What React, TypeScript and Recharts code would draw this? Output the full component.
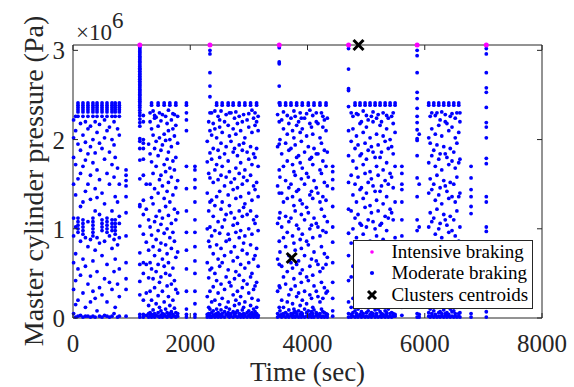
import React from 'react';
import { ScatterChart, Scatter, XAxis, YAxis, ReferenceArea, Legend } from 'recharts';

const FONT = "'Liberation Serif', 'Times New Roman', serif";
const AXIS = '#262626';
const PLOT_TOP = 45;
const PLOT_BOTTOM = 318;
const PLOT_LEFT = 73;
const PLOT_RIGHT = 542;

const xTicks = [0, 2000, 4000, 6000, 8000];
const yTicks = [0, 1, 2, 3];

// Each row: [time (sec), pressure values (x10^6 Pa) observed at that time...]
const block1: number[][] = [
  [10, 2.22, 2.02, 1.8, 1.5, 1.12, 0.92, 0.62, 0.32, 0.05],
  [45, 2.26, 2.1, 1.72, 1.38, 1.02, 0.72, 0.42, 0.15, 0.01],
  [85, 2.41, 2.385, 2.36, 2.335, 2.31, 2.26, 1.95, 1.56, 1.12, 1.08, 1.04, 1.0, 0.96, 0.55, 0.2, 0.02],
  [128, 2.18, 1.88, 1.62, 1.25, 0.86, 0.48, 0.03],
  [170, 2.41, 2.385, 2.36, 2.335, 2.31, 2.26, 2.05, 1.7, 1.3, 1.1, 1.06, 1.02, 0.98, 0.94, 0.66, 0.28, 0.01],
  [212, 2.2, 1.97, 1.77, 1.42, 0.9, 0.58, 0.12, 0.02],
  [255, 2.41, 2.385, 2.36, 2.335, 2.31, 2.26, 2.12, 1.84, 1.5, 1.08, 0.8, 0.38, 0.02],
  [298, 2.15, 1.92, 1.6, 1.33, 0.88, 0.47, 0.18, 0.01],
  [340, 2.41, 2.385, 2.36, 2.335, 2.31, 2.26, 2.0, 1.74, 1.12, 1.08, 1.04, 1.0, 0.96, 0.92, 0.64, 0.3, 0.02],
  [378, 2.2, 1.85, 1.45, 1.2, 0.76, 0.22, 0.01],
  [410, 2.41, 2.385, 2.36, 2.335, 2.31, 2.26, 2.08, 1.66, 1.35, 0.9, 0.52, 0.08],
  [452, 2.17, 1.96, 1.55, 1.16, 0.84, 0.34, 0.02],
  [495, 2.41, 2.385, 2.36, 2.335, 2.31, 2.26, 1.9, 1.4, 1.1, 1.06, 1.02, 0.98, 0.7, 0.26, 0.01],
  [538, 2.22, 2.02, 1.78, 1.28, 0.86, 0.44, 0.03],
  [580, 2.41, 2.385, 2.36, 2.335, 2.31, 2.26, 2.1, 1.62, 1.12, 1.08, 1.04, 1.0, 0.96, 0.6, 0.18, 0.02],
  [622, 2.14, 1.86, 1.5, 0.92, 0.4, 0.01],
  [665, 2.41, 2.385, 2.36, 2.335, 2.31, 2.26, 2.0, 1.72, 1.2, 1.1, 1.06, 1.02, 0.98, 0.78, 0.32, 0.02],
  [700, 2.2, 1.94, 1.58, 0.88, 0.52, 0.05],
  [720, 2.41, 2.385, 2.36, 2.335, 2.31, 2.26, 1.8, 1.36, 1.1, 1.06, 1.02, 0.98, 0.94, 0.66, 0.12],
  [760, 2.12, 1.68, 1.3, 0.82, 0.38, 0.01],
  [790, 2.41, 2.385, 2.36, 2.335, 2.31, 2.26, 2.05, 1.5, 1.14, 1.06, 0.9, 0.55, 0.24, 0.02],
  [905, 1.66, 1.6, 1.54, 1.48, 1.36, 1.18, 0.92, 0.62, 0.44, 0.32, 0.02],
];

const spikeColumns: number[][] = [
  [1140, 3.04, 3.025, 3.005, 2.985, 2.97, 2.95, 2.93, 2.915, 2.895, 2.875, 2.86, 2.84, 2.82, 2.8, 2.785, 2.765,
    2.745, 2.73, 2.71, 2.69, 2.675, 2.655, 2.635, 2.615, 2.6, 2.58, 2.56, 2.545, 2.525, 2.505, 2.49, 2.47, 2.45,
    2.43, 2.41, 2.385, 2.36, 2.33, 2.3, 2.27, 2.23, 2.19, 2.15, 2.01, 1.98, 1.9, 1.77, 1.56, 1.27, 1.25, 1.03,
    0.73, 0.6, 0.41, 0.26, 0.04, 0.01],
  [2336, 3.0, 2.96, 2.75, 2.6, 2.48, 2.3, 2.1, 1.85, 1.57, 1.3, 1.02, 0.8, 0.54, 0.3, 0.1, 0.03, 0.01],
  [3518, 3.03, 2.87, 2.85, 2.6, 2.41, 2.2, 1.95, 1.66, 1.4, 1.12, 0.86, 0.6, 0.36, 0.12, 0.03],
  [4700, 3.02, 2.79, 2.57, 2.55, 2.37, 2.1, 1.82, 1.52, 1.22, 0.95, 0.7, 0.42, 0.18, 0.05, 0.01],
  [5870, 3.0, 2.94, 2.75, 2.53, 2.46, 2.35, 2.26, 2.19, 2.11, 2.01, 1.99, 1.82, 1.57, 1.36, 1.1, 0.98, 0.7, 0.48, 0.2, 0.05, 0.01],
  [7050, 3.02, 2.96, 2.75, 2.58, 2.53, 2.36, 2.19, 2.14, 2.02, 1.79, 1.73, 1.36, 1.3, 1.02, 0.97, 0.07, 0.01],
];

const block2: number[][] = [
  [1200, 2.27, 2.2, 2.0, 1.96, 1.9, 1.78, 1.6, 1.32, 1.16, 0.94, 0.62, 0.5, 0.2, 0.04, 0.01],
  [1250, 1.5, 1.22, 0.85, 0.6, 0.28, 0.03],
  [1290, 1.95, 1.1, 0.76, 0.45, 0.14, 0.05, 0.01],
  [1315, 2.3, 2.2, 1.84, 1.5, 1.02, 0.62, 0.3, 0.06, 0.02],
  [1340, 2.41, 2.385, 2.12, 1.75, 1.35, 0.93, 0.55, 0.2, 0.04, 0.01],
  [1366, 2.32, 2.05, 1.62, 1.28, 0.8, 0.44, 0.09, 0.03],
  [1392, 2.27, 2.24, 1.9, 1.45, 1.08, 0.7, 0.34, 0.05, 0.01],
  [1418, 2.25, 1.98, 1.7, 1.14, 0.88, 0.52, 0.16, 0.03],
  [1452, 2.41, 2.385, 2.15, 1.82, 1.4, 0.98, 0.6, 0.25, 0.06, 0.02],
  [1475, 2.3, 2.02, 1.55, 1.2, 0.76, 0.4, 0.12, 0.01],
  [1500, 2.21, 1.88, 1.6, 1.05, 0.84, 0.46, 0.08, 0.03],
  [1525, 2.28, 1.94, 1.48, 1.12, 0.66, 0.3, 0.05, 0.01],
  [1555, 2.41, 2.385, 2.06, 1.72, 1.34, 0.95, 0.58, 0.18, 0.04],
  [1580, 2.26, 1.99, 1.64, 1.25, 0.82, 0.5, 0.1, 0.02],
  [1605, 2.18, 1.78, 1.42, 1.0, 0.72, 0.36, 0.06, 0.01],
  [1628, 2.33, 2.1, 1.86, 1.52, 1.15, 0.62, 0.24, 0.03],
  [1652, 2.41, 2.385, 2.0, 1.68, 1.3, 0.9, 0.48, 0.14, 0.05, 0.02],
  [1678, 2.22, 1.92, 1.58, 1.06, 0.78, 0.38, 0.07, 0.01],
  [1704, 2.29, 2.12, 1.76, 1.38, 0.96, 0.56, 0.2, 0.04],
  [1730, 2.28, 2.04, 1.66, 1.22, 0.86, 0.42, 0.11, 0.02],
  [1754, 2.41, 2.385, 2.16, 1.8, 1.46, 1.1, 0.68, 0.32, 0.06, 0.01],
  [1785, 2.26, 1.96, 1.54, 1.18, 0.74, 0.28, 0.05, 0.02],
  [1935, 2.41, 2.385, 2.3, 2.22, 2.1, 1.7, 1.45, 1.2, 0.96, 0.76, 0.55, 0.3, 0.1, 0.04, 0.01],
  [2080, 1.7, 1.66, 1.55, 1.46, 1.3, 1.1, 0.96, 0.8, 0.64, 0.5, 0.3, 0.16, 0.04, 0.01],
];

const block3: number[][] = [
  [2290, 1.98, 1.75, 1.4, 1.0, 0.62, 0.24, 0.04, 0.01],
  [2315, 2.2, 1.62, 1.2, 0.86, 0.45, 0.12, 0.05, 0.02],
  [2365, 2.3, 2.05, 1.78, 1.32, 0.92, 0.56, 0.18, 0.06, 0.01],
  [2392, 2.18, 1.9, 1.52, 1.14, 0.72, 0.35, 0.08, 0.03],
  [2420, 2.32, 2.12, 1.66, 1.26, 0.98, 0.5, 0.2, 0.04, 0.01],
  [2450, 2.41, 2.385, 2.02, 1.72, 1.36, 0.82, 0.42, 0.1, 0.05, 0.02],
  [2475, 2.26, 1.88, 1.55, 1.08, 0.66, 0.28, 0.06, 0.01],
  [2502, 2.22, 2.14, 1.8, 1.42, 0.95, 0.58, 0.15, 0.04, 0.02],
  [2525, 2.32, 1.96, 1.6, 1.22, 0.78, 0.38, 0.09, 0.01],
  [2545, 2.41, 2.385, 2.08, 1.7, 1.3, 1.02, 0.62, 0.22, 0.05, 0.02],
  [2585, 2.2, 1.84, 1.48, 1.1, 0.7, 0.32, 0.07, 0.01],
  [2612, 2.28, 1.92, 1.58, 1.16, 0.86, 0.46, 0.12, 0.04],
  [2647, 2.41, 2.385, 2.16, 1.76, 1.38, 0.94, 0.54, 0.18, 0.06, 0.02],
  [2668, 2.3, 2.04, 1.64, 1.26, 0.88, 0.4, 0.1, 0.03, 0.01],
  [2695, 2.3, 1.98, 1.52, 1.18, 0.74, 0.36, 0.05, 0.02],
  [2732, 2.41, 2.385, 2.12, 1.86, 1.44, 1.04, 0.64, 0.26, 0.07, 0.01],
  [2755, 2.24, 1.9, 1.56, 1.12, 0.8, 0.44, 0.14, 0.04],
  [2778, 2.31, 2.06, 1.68, 1.34, 0.96, 0.52, 0.2, 0.06, 0.02],
  [2805, 2.18, 1.82, 1.46, 1.06, 0.68, 0.3, 0.08, 0.01],
  [2835, 2.41, 2.385, 2.26, 1.94, 1.62, 1.2, 0.9, 0.48, 0.16, 0.05, 0.02],
  [2860, 2.1, 1.74, 1.36, 0.98, 0.6, 0.24, 0.04, 0.01],
  [2888, 2.2, 1.88, 1.5, 1.14, 0.76, 0.34, 0.09, 0.03],
  [2910, 2.28, 1.96, 1.58, 1.24, 0.84, 0.42, 0.12, 0.05, 0.01],
  [2932, 2.41, 2.385, 2.02, 1.66, 1.28, 0.92, 0.56, 0.18, 0.04, 0.02],
  [2970, 2.22, 1.86, 1.54, 1.16, 0.72, 0.38, 0.06, 0.01],
  [2998, 2.29, 2.14, 1.78, 1.4, 1.0, 0.62, 0.28, 0.08, 0.03],
  [3029, 2.41, 2.385, 1.92, 1.6, 1.2, 0.82, 0.46, 0.14, 0.05, 0.01],
  [3052, 2.33, 2.08, 1.72, 1.32, 0.94, 0.5, 0.22, 0.06, 0.02],
  [3080, 2.24, 1.84, 1.48, 1.1, 0.66, 0.32, 0.1, 0.04, 0.01],
  [3105, 2.3, 2.16, 1.8, 1.44, 1.06, 0.7, 0.36, 0.07, 0.02],
  [3132, 2.41, 2.385, 2.2, 1.9, 1.52, 1.14, 0.78, 0.4, 0.12, 0.05, 0.01],
  [3158, 2.26, 2.1, 1.7, 1.36, 0.98, 0.58, 0.2, 0.03, 0.01],
];

const block4: number[][] = [
  [3490, 2.28, 1.92, 1.48, 1.06, 0.66, 0.3, 0.05, 0.01],
  [3530, 2.41, 2.385, 2.0, 1.58, 1.18, 0.74, 0.34, 0.08, 0.02],
  [3560, 2.22, 1.84, 1.4, 1.02, 0.58, 0.2, 0.04, 0.01],
  [3590, 2.31, 2.12, 1.7, 1.3, 0.9, 0.46, 0.12, 0.05, 0.02],
  [3627, 2.41, 2.385, 1.96, 1.54, 1.14, 0.8, 0.38, 0.06, 0.01],
  [3655, 2.27, 2.06, 1.76, 1.34, 0.96, 0.52, 0.18, 0.04, 0.02],
  [3682, 2.18, 1.88, 1.46, 1.08, 0.7, 0.26, 0.09, 0.01],
  [3718, 2.41, 2.385, 2.24, 1.9, 1.5, 1.12, 0.62, 0.32, 0.05, 0.03],
  [3745, 2.1, 1.72, 1.36, 0.92, 0.56, 0.16, 0.04, 0.01],
  [3768, 2.32, 2.02, 1.64, 1.26, 0.84, 0.44, 0.1, 0.06, 0.02],
  [3790, 2.26, 1.94, 1.6, 1.2, 0.76, 0.36, 0.07, 0.01],
  [3815, 2.41, 2.385, 2.16, 1.8, 1.42, 1.04, 0.6, 0.24, 0.05, 0.02],
  [3848, 2.2, 1.82, 1.44, 1.0, 0.64, 0.28, 0.08, 0.01],
  [3875, 2.3, 2.08, 1.74, 1.32, 0.88, 0.5, 0.14, 0.04, 0.02],
  [3895, 2.24, 1.98, 1.56, 1.16, 0.78, 0.4, 0.06, 0.01],
  [3911, 2.41, 2.385, 2.12, 1.68, 1.28, 0.94, 0.54, 0.2, 0.05, 0.03],
  [3950, 2.24, 1.86, 1.5, 1.1, 0.7, 0.3, 0.1, 0.01],
  [3985, 2.29, 2.04, 1.62, 1.24, 0.86, 0.46, 0.16, 0.06, 0.02],
  [4014, 2.41, 2.385, 1.92, 1.58, 1.18, 0.82, 0.42, 0.08, 0.01],
  [4040, 2.33, 2.18, 1.78, 1.38, 1.0, 0.58, 0.26, 0.04, 0.02],
  [4068, 2.14, 1.8, 1.42, 1.04, 0.66, 0.22, 0.07, 0.01],
  [4090, 2.27, 2.06, 1.72, 1.34, 0.9, 0.48, 0.12, 0.05, 0.02],
  [4111, 2.41, 2.385, 1.9, 1.54, 1.12, 0.74, 0.36, 0.09, 0.01],
  [4150, 2.3, 2.2, 1.84, 1.46, 1.06, 0.64, 0.3, 0.06, 0.03],
  [4178, 2.18, 1.84, 1.4, 1.02, 0.6, 0.24, 0.04, 0.01],
  [4213, 2.41, 2.385, 2.02, 1.66, 1.3, 0.92, 0.52, 0.18, 0.05, 0.02],
  [4238, 2.3, 1.96, 1.62, 1.22, 0.8, 0.4, 0.1, 0.01],
  [4262, 2.26, 2.14, 1.76, 1.36, 0.98, 0.56, 0.22, 0.07, 0.02],
  [4288, 2.22, 1.88, 1.52, 1.14, 0.72, 0.34, 0.06, 0.01],
  [4316, 2.41, 2.385, 2.1, 1.7, 1.32, 0.96, 0.6, 0.28, 0.05, 0.02],
  [4338, 2.24, 1.86, 1.48, 1.08, 0.68, 0.3, 0.04, 0.01],
  [4430, 1.7, 1.64, 1.55, 1.45, 1.25, 1.02, 0.85, 0.62, 0.4, 0.22, 0.08, 0.02],
];

const block5: number[][] = [
  [4745, 2.3, 1.98, 1.6, 1.2, 0.84, 0.46, 0.12, 0.04, 0.01],
  [4775, 2.26, 2.12, 1.76, 1.38, 1.0, 0.58, 0.22, 0.06, 0.02],
  [4811, 2.41, 2.385, 1.9, 1.5, 1.12, 0.72, 0.34, 0.08, 0.01],
  [4835, 2.29, 2.04, 1.68, 1.3, 0.9, 0.5, 0.16, 0.05, 0.02],
  [4862, 2.28, 1.94, 1.58, 1.16, 0.8, 0.4, 0.1, 0.01],
  [4896, 2.41, 2.385, 2.18, 1.82, 1.44, 1.06, 0.66, 0.28, 0.04, 0.03],
  [4920, 2.2, 1.84, 1.46, 1.04, 0.62, 0.26, 0.07, 0.01],
  [4950, 2.32, 2.08, 1.72, 1.34, 0.94, 0.54, 0.18, 0.05, 0.02],
  [4982, 2.41, 2.385, 1.96, 1.62, 1.24, 0.84, 0.44, 0.12, 0.01],
  [5005, 2.27, 2.14, 1.78, 1.4, 1.02, 0.6, 0.24, 0.06, 0.02],
  [5035, 2.22, 1.88, 1.52, 1.1, 0.7, 0.32, 0.08, 0.01],
  [5067, 2.41, 2.385, 2.02, 1.64, 1.26, 0.86, 0.46, 0.14, 0.04, 0.02],
  [5090, 2.26, 1.92, 1.56, 1.18, 0.78, 0.38, 0.06, 0.01],
  [5118, 2.31, 2.2, 1.86, 1.48, 1.08, 0.68, 0.3, 0.05, 0.03],
  [5153, 2.41, 2.385, 1.8, 1.42, 1.0, 0.6, 0.22, 0.09, 0.01],
  [5178, 2.24, 2.06, 1.7, 1.32, 0.92, 0.52, 0.2, 0.05, 0.02],
  [5205, 2.28, 1.94, 1.6, 1.2, 0.82, 0.42, 0.1, 0.01],
  [5238, 2.41, 2.385, 2.16, 1.8, 1.42, 1.04, 0.64, 0.26, 0.07, 0.02],
  [5262, 2.2, 1.86, 1.48, 1.06, 0.66, 0.28, 0.05, 0.01],
  [5290, 2.3, 2.04, 1.66, 1.28, 0.88, 0.48, 0.16, 0.04, 0.02],
  [5324, 2.41, 2.385, 1.98, 1.54, 1.14, 0.76, 0.36, 0.08, 0.01],
  [5350, 2.27, 2.12, 1.74, 1.36, 0.98, 0.56, 0.22, 0.06, 0.03],
  [5378, 2.24, 1.9, 1.5, 1.12, 0.74, 0.34, 0.1, 0.01],
  [5409, 2.41, 2.385, 2.0, 1.62, 1.22, 0.84, 0.44, 0.14, 0.05, 0.02],
  [5435, 2.26, 1.92, 1.58, 1.18, 0.8, 0.4, 0.06, 0.01],
  [5462, 2.3, 2.18, 1.84, 1.46, 1.1, 0.7, 0.32, 0.05, 0.02],
  [5494, 2.41, 2.385, 2.08, 1.7, 1.3, 0.9, 0.5, 0.18, 0.04, 0.02],
  [5610, 1.7, 1.62, 1.5, 1.44, 1.3, 1.1, 0.92, 0.7, 0.5, 0.3, 0.12, 0.03],
];

const block6: number[][] = [
  [5905, 2.06, 1.5, 1.02, 0.6, 0.22, 0.04, 0.01],
  [6068, 2.41, 2.385, 2.02, 1.74, 1.4, 1.02, 0.66, 0.3, 0.06, 0.02],
  [6093, 2.26, 1.96, 1.56, 1.18, 0.8, 0.42, 0.1, 0.01],
  [6120, 2.3, 2.12, 1.82, 1.44, 1.08, 0.7, 0.26, 0.05, 0.02],
  [6154, 2.41, 2.385, 1.88, 1.5, 1.12, 0.72, 0.36, 0.08, 0.01],
  [6180, 2.27, 2.06, 1.7, 1.32, 0.94, 0.54, 0.18, 0.04, 0.03],
  [6208, 2.3, 1.94, 1.6, 1.22, 0.84, 0.44, 0.12, 0.01],
  [6239, 2.41, 2.385, 2.16, 1.78, 1.38, 1.0, 0.6, 0.24, 0.06, 0.02],
  [6262, 2.22, 1.84, 1.46, 1.06, 0.68, 0.3, 0.07, 0.01],
  [6290, 2.31, 2.04, 1.66, 1.28, 0.9, 0.5, 0.16, 0.05, 0.02],
  [6324, 2.41, 2.385, 1.92, 1.54, 1.16, 0.78, 0.38, 0.09, 0.01],
  [6350, 2.28, 2.2, 1.84, 1.48, 1.1, 0.72, 0.32, 0.05, 0.03],
  [6378, 2.18, 1.8, 1.42, 1.04, 0.64, 0.26, 0.06, 0.01],
  [6410, 2.41, 2.385, 2.1, 1.72, 1.34, 0.96, 0.56, 0.2, 0.04, 0.02],
  [6435, 2.26, 1.9, 1.52, 1.14, 0.76, 0.4, 0.1, 0.01],
  [6465, 2.29, 2.14, 1.76, 1.36, 0.98, 0.58, 0.22, 0.07, 0.02],
  [6495, 2.41, 2.385, 1.86, 1.5, 1.1, 0.7, 0.34, 0.08, 0.01],
  [6520, 2.24, 2.02, 1.68, 1.3, 0.92, 0.52, 0.14, 0.05, 0.02],
  [6548, 2.3, 1.96, 1.58, 1.2, 0.82, 0.44, 0.12, 0.01],
  [6580, 2.41, 2.385, 2.08, 1.74, 1.36, 0.86, 0.48, 0.18, 0.05, 0.02],
  [6600, 2.3, 2.2, 1.78, 1.4, 1.02, 0.62, 0.28, 0.06, 0.01],
  [6790, 1.7, 1.57, 1.44, 1.36, 1.25, 1.17, 0.05, 0.01],
];

const intensiveTimes = [1140, 2336, 3518, 4700, 5870, 7050];
const intensivePressures = [3.06, 3.06, 3.06, 3.06, 3.06, 3.06];
const centroidTimes = [3730, 4870];
const centroidPressures = [0.673, 3.06];

const toPoints = (cols: number[][]) => cols.flatMap((c) => c.slice(1).map((p) => ({ t: c[0], p })));
const moderateData = toPoints([...block1, ...spikeColumns, ...block2, ...block3, ...block4, ...block5, ...block6]);
const intensiveData = intensiveTimes.map((t, i) => ({ t, p: intensivePressures[i] }));
const centroidData = centroidTimes.map((t, i) => ({ t, p: centroidPressures[i] }));

const BlueDot = (props: any) => <circle cx={props.cx} cy={props.cy} r={1.9} fill="#0000ff" />;
const PinkDot = (props: any) => <circle cx={props.cx} cy={props.cy} r={2.5} fill="#ff00ff" />;
const Cross = (props: any) => (
  <g stroke="#000" strokeWidth={3} strokeLinecap="butt">
    <line x1={props.cx - 5} y1={props.cy - 5} x2={props.cx + 5} y2={props.cy + 5} />
    <line x1={props.cx - 5} y1={props.cy + 5} x2={props.cx + 5} y2={props.cy - 5} />
  </g>
);

const XTick = (props: any) => {
  const { x, payload } = props;
  return (
    <g>
      <line x1={x} x2={x} y1={PLOT_BOTTOM} y2={PLOT_BOTTOM - 5} stroke={AXIS} />
      <line x1={x} x2={x} y1={PLOT_TOP} y2={PLOT_TOP + 5} stroke={AXIS} />
      <text x={x} y={352} textAnchor="middle" fontFamily={FONT} fontSize={25} fill={AXIS}>
        {payload.value}
      </text>
    </g>
  );
};

const YTick = (props: any) => {
  const { y, payload } = props;
  return (
    <g>
      <line x1={PLOT_LEFT} x2={PLOT_LEFT + 5} y1={y} y2={y} stroke={AXIS} />
      <line x1={PLOT_RIGHT} x2={PLOT_RIGHT - 5} y1={y} y2={y} stroke={AXIS} />
      <text x={65} y={y + 9} textAnchor="end" fontFamily={FONT} fontSize={25} fill={AXIS}>
        {payload.value}
      </text>
    </g>
  );
};

const legendRows = [
  { label: 'Intensive braking', kind: 'pink' },
  { label: 'Moderate braking', kind: 'blue' },
  { label: 'Clusters centroids', kind: 'cross' },
];

const LegendBox = () => (
  <div
    style={{
      position: 'relative',
      width: 180,
      height: 69,
      border: `1px solid ${AXIS}`,
      boxSizing: 'border-box',
      background: '#fff',
      fontFamily: FONT,
      fontSize: 19,
      color: '#000',
    }}
  >
    {legendRows.map((r, i) => (
      <React.Fragment key={r.label}>
        <svg width={14} height={14} style={{ position: 'absolute', left: 11, top: 3.5 + i * 21.8 }}>
          {r.kind === 'pink' && <circle cx={7} cy={7} r={1.8} fill="#ff00ff" />}
          {r.kind === 'blue' && <circle cx={7} cy={7} r={2.1} fill="#0000ff" />}
          {r.kind === 'cross' && (
            <g stroke="#000" strokeWidth={3}>
              <line x1={3} y1={3} x2={11} y2={11} />
              <line x1={3} y1={11} x2={11} y2={3} />
            </g>
          )}
        </svg>
        <div style={{ position: 'absolute', left: 37.4, top: -0.4 + i * 21.8, lineHeight: '21.8px', whiteSpace: 'nowrap' }}>
          {r.label}
        </div>
      </React.Fragment>
    ))}
  </div>
);

export default function App() {
  return (
    <div style={{ position: 'absolute', left: 0, top: 0, background: '#fff' }}>
      <ScatterChart width={574} height={387} margin={{ top: 45, right: 32, left: 33, bottom: 29 }}>
        <XAxis
          dataKey="t"
          type="number"
          domain={[0, 8000]}
          ticks={xTicks}
          interval={0}
          height={40}
          axisLine={false}
          tickLine={false}
          tick={(p: any) => <XTick {...p} />}
          label={() => (
            <text x={307.5} y={380.5} textAnchor="middle" fontFamily={FONT} fontSize={27} fill={AXIS}>
              Time (sec)
            </text>
          )}
        />
        <YAxis
          dataKey="p"
          type="number"
          domain={[0, 3.06]}
          ticks={yTicks}
          interval={0}
          width={40}
          axisLine={false}
          tickLine={false}
          tick={(p: any) => <YTick {...p} />}
          label={() => (
            <text x={43} y={181} transform="rotate(-90, 43, 181)" textAnchor="middle" fontFamily={FONT} fontSize={28} fill={AXIS}>
              Master cylinder pressure (Pa)
            </text>
          )}
        />
        <ReferenceArea
          x1={0}
          x2={8000}
          y1={0}
          y2={3.06}
          fill="none"
          fillOpacity={0}
          stroke={AXIS}
          strokeWidth={1}
          label={(lp: any) => {
            const vb = lp.viewBox || { x: PLOT_LEFT, y: PLOT_TOP };
            return (
              <text x={vb.x + 3} y={vb.y - 5} fontFamily={FONT} fontSize={23} fill={AXIS}>
                ×10<tspan dy={-12}>6</tspan>
              </text>
            );
          }}
        />
        <Scatter name="Moderate braking" data={moderateData} shape={BlueDot} isAnimationActive={false} />
        <Scatter name="Intensive braking" data={intensiveData} shape={PinkDot} isAnimationActive={false} />
        <Scatter name="Clusters centroids" data={centroidData} shape={Cross} isAnimationActive={false} />
        <Legend
          layout="vertical"
          align="center"
          verticalAlign="middle"
          wrapperStyle={{ left: 353, top: 240, width: 180, height: 69 }}
          content={() => <LegendBox />}
        />
      </ScatterChart>
    </div>
  );
}
